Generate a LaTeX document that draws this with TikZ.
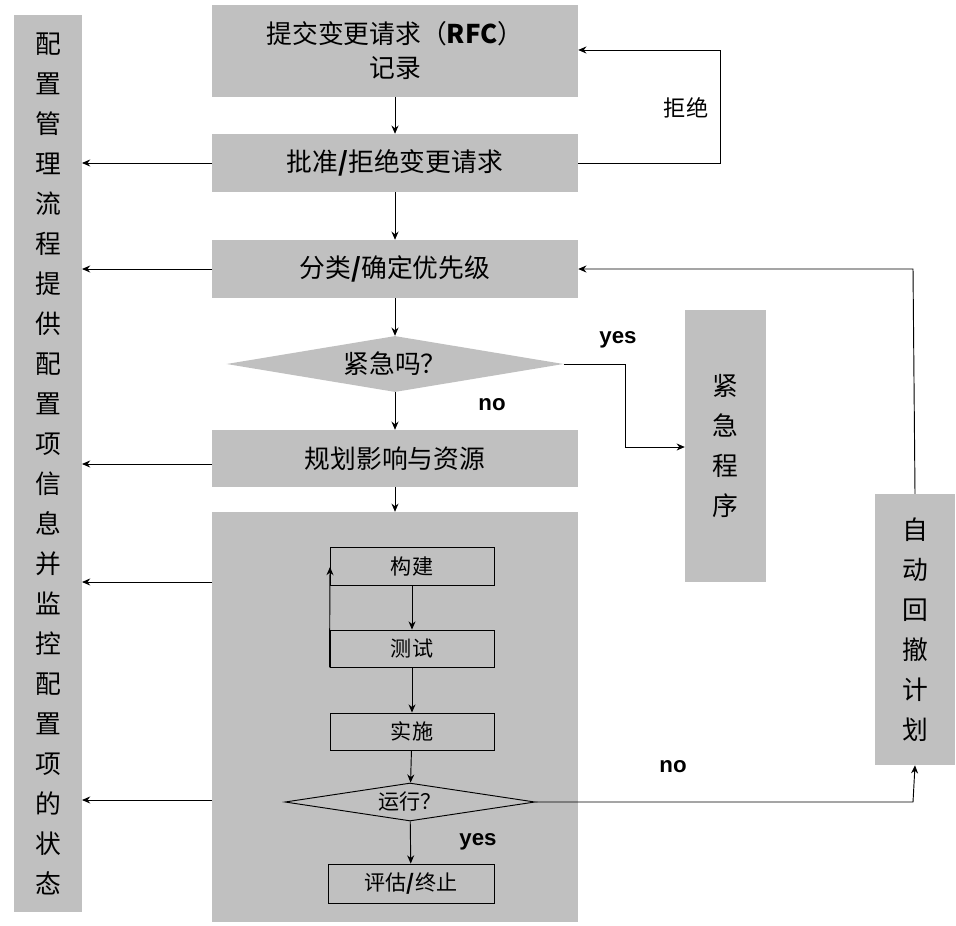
\documentclass[tikz,border=0pt]{standalone}
\usepackage{fontspec}
\setmainfont{Liberation Sans}
\newfontfamily\cjk{Noto Sans CJK SC}
\usetikzlibrary{shapes.geometric,arrows.meta}
\definecolor{gbox}{HTML}{C0C0C0}
\begin{document}
\begin{tikzpicture}[x=0.03cm,y=-0.03cm,
  gb/.style={fill=gbox,draw=none,inner sep=0},
  ib/.style={fill=gbox,draw=black,line width=0.8pt,inner sep=0},
  txt/.style={font=\cjk\fontsize{22}{29}\selectfont,align=center},
  vtxt/.style={font=\cjk\fontsize{22}{1.2cm}\selectfont,align=center},
  itxt/.style={font=\cjk\fontsize{18}{21}\selectfont},
  lbl/.style={font=\bfseries\fontsize{19}{22}\selectfont},
  arr/.style={-{Stealth[length=7pt,width=6pt]},line width=0.8pt}]
\useasboundingbox (0,0) rectangle (956,925);
% left box
\node[gb,minimum width=68*0.03cm,minimum height=897*0.03cm] (L) at (48,463.5) {};
\node[vtxt] at (L) {配\\置\\管\\理\\流\\程\\提\\供\\配\\置\\项\\信\\息\\并\\监\\控\\配\\置\\项\\的\\状\\态};
\node[gb,txt,minimum width=366*0.03cm,minimum height=92*0.03cm] (b1) at (395,51) {提交变更请求（\textbf{RFC}）\\记录};
\node[gb,txt,minimum width=366*0.03cm,minimum height=58*0.03cm] (b2) at (395,163) {批准\textbf{/}拒绝变更请求};
\node[gb,txt,minimum width=366*0.03cm,minimum height=58*0.03cm] (b3) at (395,269) {分类\textbf{/}确定优先级};
\node[gb,txt,diamond,aspect=6,minimum width=337*0.03cm,minimum height=56*0.03cm] (d1) at (395,364) {紧急吗？};
\node[gb,txt,minimum width=366*0.03cm,minimum height=57*0.03cm] (b4) at (395,458.5) {规划影响与资源};
\node[gb,minimum width=366*0.03cm,minimum height=410*0.03cm] (big) at (395,717) {};
\node[gb,minimum width=81*0.03cm,minimum height=272*0.03cm] (em) at (725.5,446) {};
\node[vtxt] at (em) {紧\\急\\程\\序};
\node[gb,minimum width=80*0.03cm,minimum height=271*0.03cm] (rb) at (915,629.5) {};
\node[vtxt] at (rb) {自\\动\\回\\撤\\计\\划};
% inner
\node[ib,itxt,minimum width=164*0.03cm,minimum height=38*0.03cm] (c1) at (412,566) {构建};
\node[ib,itxt,minimum width=164*0.03cm,minimum height=37*0.03cm] (c2) at (412,648.5) {测试};
\node[ib,itxt,minimum width=164*0.03cm,minimum height=37*0.03cm] (c3) at (412,731.5) {实施};
\node[ib,itxt,diamond,aspect=6.5,minimum width=250*0.03cm,minimum height=38*0.03cm,inner sep=0] (d2) at (410,802) {运行？};
\node[ib,itxt,minimum width=166*0.03cm,minimum height=39*0.03cm] (c4) at (411,883.5) {评估\textbf{/}终止};
% arrows main
\draw[arr] (b1) -- (b2);
\draw[arr] (b2) -- (b3);
\draw[arr] (b3) -- (d1);
\draw[arr] (d1) -- (b4);
\draw[arr] (b4) -- (big);
\foreach \y in {163,269,464,582,800} \draw[arr] (212,\y) -- (82,\y);
\draw[arr] (b2.east) -- (720,163) -- (720,50) -- (b1.east |- 0,50);
\node[font=\cjk\fontsize{19}{22}\selectfont] at (686,108) {拒绝};
\draw[arr] (rb.north) -- (913,269) -- (b3.east);
\draw[arr] (d1.east) -- (625,364) -- (625,447) -- (em.west |- 0,447);
\node[lbl] at (618,340) {yes};
\node[lbl] at (492,405) {no};
% inner arrows
\draw[arr] (c1) -- (c2);
\draw[arr] (c2) -- (c3);
\draw[arr] (c3) -- (d2);
\draw[arr] (d2) -- (c4);
\draw[arr] (c2.south west) -- (330,567);
\draw[arr] (d2.east) -- (913,802) -- (rb.south);
\node[lbl] at (478,842) {yes};
\node[lbl] at (673,767) {no};
\end{tikzpicture}
\end{document}
